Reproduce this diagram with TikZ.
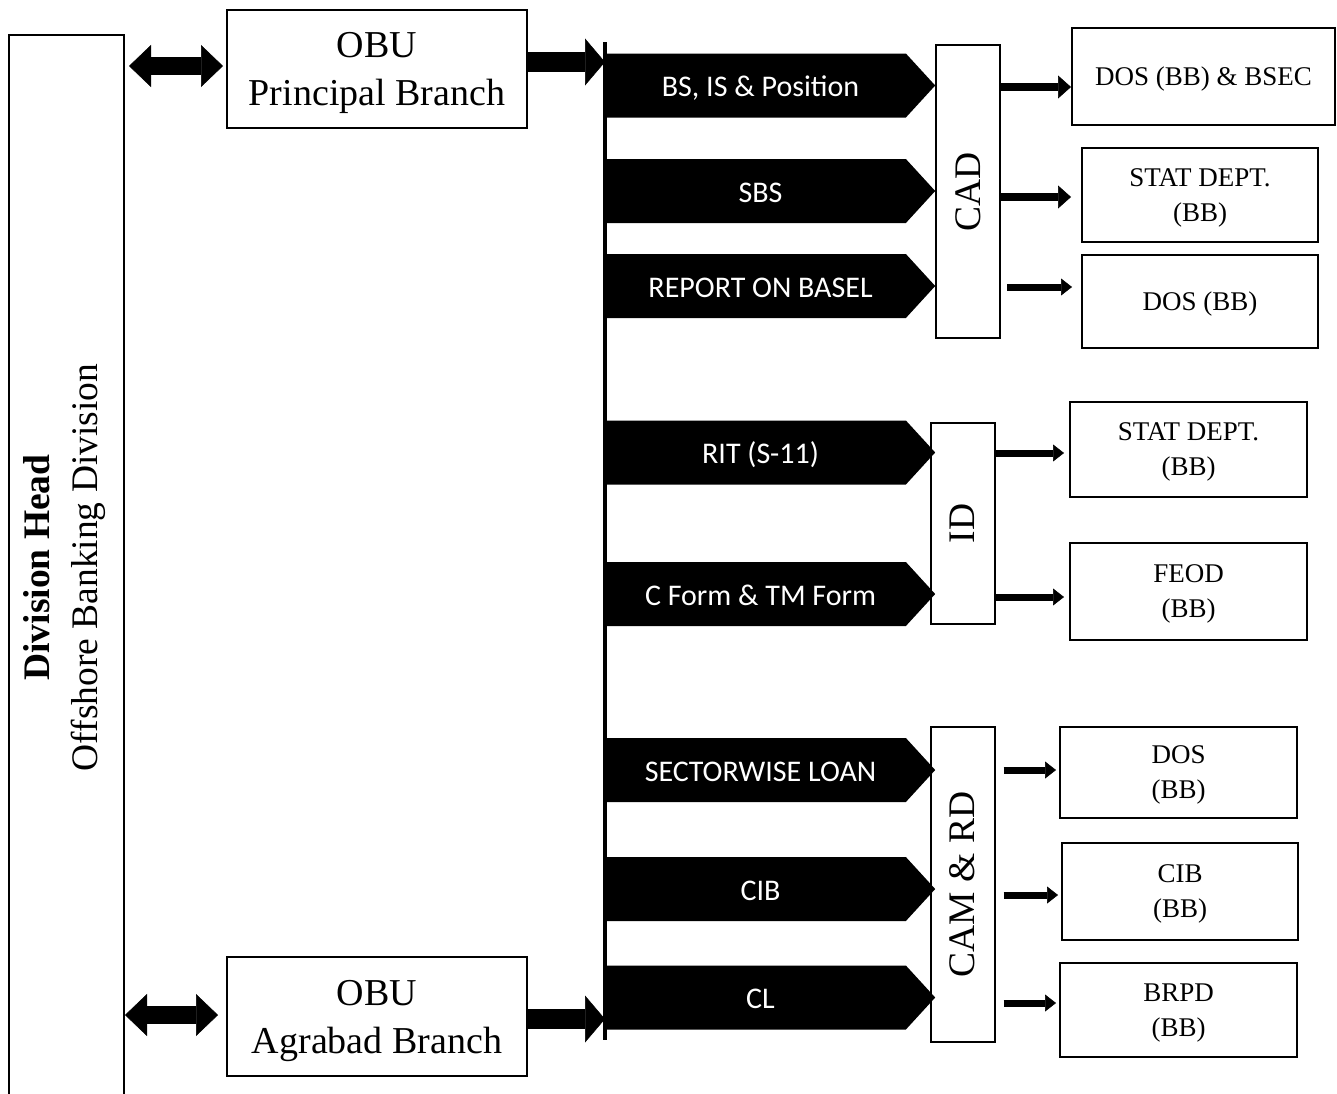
\documentclass[tikz,border=0pt]{standalone}
\usepackage{fontspec}
\setmainfont{Liberation Serif}
\setsansfont{Carlito}
\usetikzlibrary{calc,arrows.meta,shapes.symbols}
\tikzset{
    headBox/.style={draw, line width=2pt, rotate=90, inner sep=0pt,
                    minimum width=1065pt, minimum height=115pt, align=center,
                    text depth=12pt, font=\fontsize{37.5}{48}\selectfont},
    obuBox/.style={draw, line width=2pt, inner sep=0pt, align=center,
                   minimum width=300pt, minimum height=118pt, text depth=0pt,
                   font=\fontsize{38}{48}\selectfont},
    rptTab/.style={signal, signal to=east, signal pointer angle=95,
                   fill=black, text=white, anchor=west, inner sep=0pt,
                   minimum width=330pt, minimum height=64pt,
                   text height=22pt, text depth=0pt,
                   execute at begin node={\hspace*{10pt}},
                   font=\sffamily\fontsize{30}{34}\selectfont},
    unitBox/.style={draw, line width=2pt, rotate=90, inner sep=0pt,
                    minimum height=64pt, font=\fontsize{37.5}{40}\selectfont},
    deptBox/.style={draw, line width=2pt, inner sep=0pt, align=center,
                    minimum width=237pt, minimum height=95pt, text depth=0pt,
                    font=\fontsize{27}{35}\selectfont},
    busLine/.style={line width=4pt},
    dblArrow/.style={line width=18pt,
                     {Triangle[length=22pt,width=42pt,line width=0.5pt]}-{Triangle[length=22pt,width=42pt,line width=0.5pt]}},
    feedArrow/.style={line width=20pt,
                      -{Triangle[length=20pt,width=47pt,line width=0.5pt]}},
    outArrow/.style={line width=8pt,
                     -{Triangle[length=13pt,width=23pt,line width=0.5pt]}},
    thinArrow/.style={line width=7pt,
                      -{Triangle[length=11pt,width=17pt,line width=0.5pt]}},
}

\begin{document}
\begin{tikzpicture}[x=1pt, y=-1pt]
\clip (0,0) rectangle (1337,1093);

% =======================  head and branches  =======================
\node[headBox] (divHead) at (66.5,567.5)
     {\textbf{Division Head}\\ Offshore Banking Division};
\node[obuBox] (obuPrin) at (377,69) {OBU\\ Principal Branch};
\node[obuBox, minimum height=119pt] (obuAgra) at (377,1016.5) {OBU\\ Agrabad Branch};

\draw[dblArrow, shorten <=4pt, shorten >=3pt]
     ($(divHead.south |- obuPrin.west)+(0,-3)$) -- ($(obuPrin.west)+(0,-3)$);
\draw[dblArrow, shorten >=8pt]
     ($(divHead.south |- obuAgra.west)+(0,-1.5)$) -- ($(obuAgra.west)+(0,-1.5)$);

% bus
\coordinate (busTop) at (605,42);
\coordinate (busBot) at (605,1040);
\draw[busLine] (busTop) -- (busBot);

\draw[feedArrow] ($(obuPrin.east)+(0,-7)$) -- ($(obuPrin.east -| busTop)+(0,-7)$);
\draw[feedArrow] ($(obuAgra.east)+(0,2.5)$) -- ($(obuAgra.east -| busTop)+(0,2.5)$);

% =======================  reports  =======================
\node[rptTab] (tBsis)   at (605,85.5)  {BS, IS \& Position};
\node[rptTab] (tSbs)    at (605,191)   {SBS};
\node[rptTab] (tBasel)  at (605,286)   {REPORT ON BASEL};
\node[rptTab] (tRit)    at (605,452.5) {RIT (S-11)};
\node[rptTab] (tCform)  at (605,594)   {C Form \& TM Form};
\node[rptTab] (tSector) at (605,770)   {SECTORWISE LOAN};
\node[rptTab] (tCib)    at (605,889)   {CIB};
\node[rptTab] (tCl)     at (605,997.5) {CL};

% =======================  departments  =======================
\node[unitBox, minimum width=293pt] (cad)   at (968,191.5)   {CAD};
\node[unitBox, minimum width=201pt] (id)    at (962.5,523.5) {ID};
\node[unitBox, minimum width=315pt] (camRd) at (962.5,884.5) {CAM \& RD};

\node[deptBox, minimum width=263pt, minimum height=97pt] (dosBsec) at (1203.5,76.5)
     {DOS (BB) \& BSEC};
\node[deptBox, minimum width=236pt, minimum height=94pt] (statCad) at (1200,195)
     {STAT DEPT.\\ (BB)};
\node[deptBox, minimum width=236pt, minimum height=93pt] (dosCad) at (1200,301.5)
     {DOS (BB)};
\node[deptBox] (statId) at (1188.5,449.5) {STAT DEPT.\\ (BB)};
\node[deptBox, minimum height=97pt] (feod) at (1188.5,591.5) {FEOD\\ (BB)};
\node[deptBox, minimum height=91pt] (dosCam) at (1178.5,772.5) {DOS\\ (BB)};
\node[deptBox, minimum width=236pt, minimum height=97pt] (cibCam) at (1180,891.5)
     {CIB\\ (BB)};
\node[deptBox, minimum height=94pt] (brpd) at (1178.5,1010) {BRPD\\ (BB)};

% CAD outputs
\draw[outArrow] ($(cad.south |- dosBsec.west)+(0,10.5)$) -- ($(dosBsec.west)+(0,10.5)$);
\draw[outArrow, shorten >=10pt]
     ($(cad.south |- statCad.west)+(0,2)$) -- ($(statCad.west)+(0,2)$);
\draw[thinArrow, shorten <=6pt, shorten >=9pt]
     ($(cad.south |- dosCad.west)+(0,-14.5)$) -- ($(dosCad.west)+(0,-14.5)$);

% ID outputs
\draw[thinArrow, shorten >=5pt]
     ($(id.south |- statId.west)+(0,3.5)$) -- ($(statId.west)+(0,3.5)$);
\draw[thinArrow, shorten >=5pt]
     ($(id.south |- feod.west)+(0,5.5)$) -- ($(feod.west)+(0,5.5)$);

% CAM & RD outputs
\draw[thinArrow, shorten <=8pt, shorten >=3pt]
     ($(camRd.south |- dosCam.west)+(0,-2.5)$) -- ($(dosCam.west)+(0,-2.5)$);
\draw[thinArrow, shorten <=8pt, shorten >=3pt]
     ($(camRd.south |- cibCam.west)+(0,3.5)$) -- ($(cibCam.west)+(0,3.5)$);
\draw[thinArrow, shorten <=8pt, shorten >=3pt]
     ($(camRd.south |- brpd.west)+(0,-7)$) -- ($(brpd.west)+(0,-7)$);

\end{tikzpicture}
\end{document}
